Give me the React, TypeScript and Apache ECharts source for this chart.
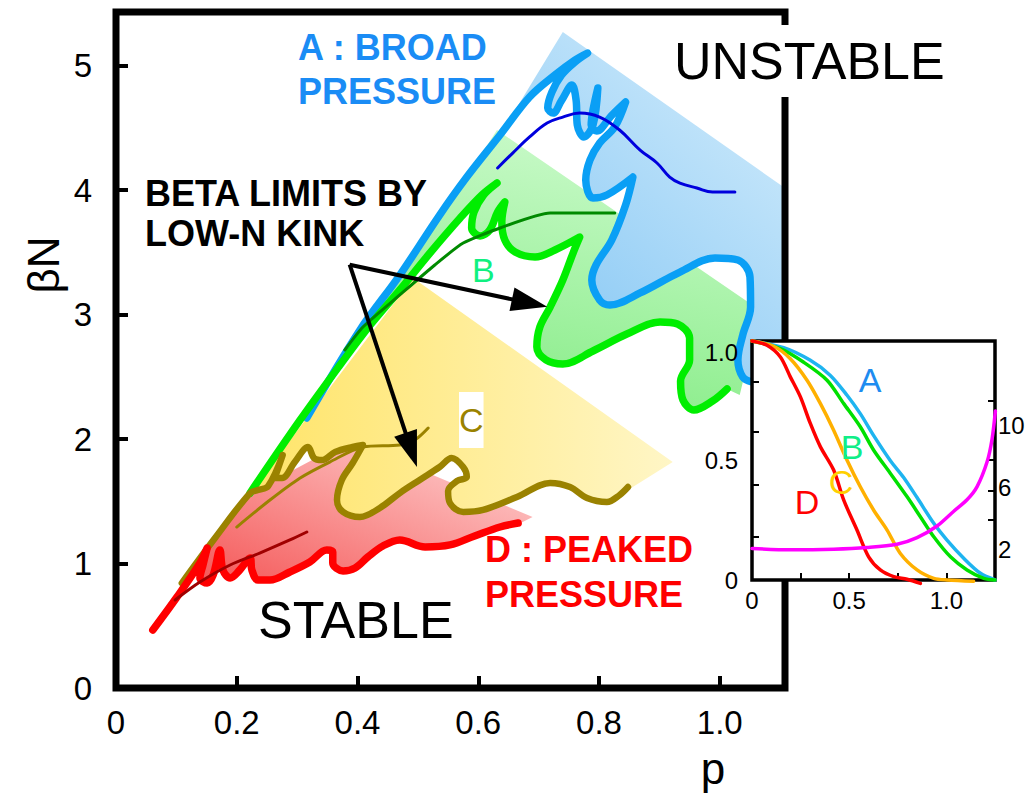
import React, { useEffect, useRef } from "react";
import * as echarts from "echarts";

// ---------- axis ticks / labels ----------
const mainXTicks = [0.2, 0.4, 0.6, 0.8, 1.0];
const mainXLabels = [0, 0.2, 0.4, 0.6, 0.8, 1.0];
const mainYTicks = [1, 2, 3, 4, 5];
const mainYLabels = [0, 1, 2, 3, 4, 5];
const insetXTicks = [0.25, 0.5, 0.75, 1.0];
const insetXLabels = [0, 0.5, 1.0];
const insetYTicks = [0.18, 0.4, 0.62, 0.83];
const insetYLabels = [0, 0.5, 1.0];
const insetY2Ticks = [3.9, 5.8, 7.8, 11.6];
const insetY2Labels = [2, 6, 10];

// ---------- main chart curves (p, betaN) ----------
const curveA = [
  [0.316, 2.169], [0.404, 2.876], [0.47, 3.317], [0.536, 3.799], [0.581, 4.104], [0.636, 4.442],
  [0.685, 4.747], [0.727, 4.924], [0.76, 5.044], [0.781, 5.1], [0.76, 5.028], [0.738, 4.924],
  [0.722, 4.787], [0.715, 4.659], [0.724, 4.618], [0.738, 4.72], [0.755, 4.843], [0.762, 4.723],
  [0.764, 4.522], [0.775, 4.426], [0.79, 4.522], [0.798, 4.819], [0.79, 4.643], [0.787, 4.522],
  [0.796, 4.474], [0.821, 4.6], [0.844, 4.707], [0.826, 4.506], [0.801, 4.378], [0.785, 4.241],
  [0.778, 4.08], [0.79, 3.936], [0.813, 3.96], [0.856, 4.104], [0.844, 3.88], [0.821, 3.598],
  [0.795, 3.398], [0.788, 3.277], [0.801, 3.116], [0.818, 3.076], [0.868, 3.173], [0.934, 3.341],
  [0.992, 3.454], [1.03, 3.438], [1.05, 3.301], [1.051, 3.06], [1.038, 2.835], [1.03, 2.635],
  [1.038, 2.498], [1.053, 2.458],
];
const curveB = [
  [0.222, 1.566], [0.305, 2.153], [0.371, 2.594], [0.421, 2.916], [0.47, 3.197], [0.52, 3.494],
  [0.57, 3.775], [0.606, 3.96], [0.631, 4.056], [0.609, 3.96], [0.593, 3.823], [0.589, 3.695],
  [0.603, 3.631], [0.619, 3.679], [0.632, 3.823], [0.644, 3.904], [0.639, 3.743], [0.644, 3.598],
  [0.661, 3.502], [0.694, 3.462], [0.727, 3.518], [0.768, 3.622], [0.757, 3.494], [0.74, 3.277],
  [0.719, 3.06], [0.702, 2.9], [0.697, 2.739], [0.712, 2.635], [0.74, 2.602], [0.79, 2.707],
  [0.846, 2.843], [0.901, 2.94], [0.93, 2.924], [0.95, 2.811], [0.95, 2.635], [0.935, 2.466],
  [0.939, 2.313], [0.957, 2.233], [0.988, 2.305], [1.012, 2.402],
];
const curveC = [
  [0.109, 0.843], [0.164, 1.205], [0.222, 1.566], [0.235, 1.59], [0.252, 1.622], [0.276, 1.871],
  [0.263, 1.687], [0.275, 1.687], [0.296, 1.815], [0.318, 1.936], [0.328, 1.847], [0.341, 1.831],
  [0.363, 1.896], [0.392, 1.936], [0.409, 1.952], [0.392, 1.807], [0.374, 1.671], [0.366, 1.51],
  [0.376, 1.414], [0.404, 1.373], [0.437, 1.446], [0.47, 1.566], [0.503, 1.671], [0.536, 1.775],
  [0.556, 1.847], [0.575, 1.775], [0.581, 1.695], [0.565, 1.663], [0.55, 1.582], [0.553, 1.486],
  [0.575, 1.414], [0.608, 1.43], [0.664, 1.534], [0.719, 1.647], [0.752, 1.614], [0.78, 1.526],
  [0.813, 1.494], [0.834, 1.55], [0.848, 1.614],
];
const curveD = [
  [0.061, 0.466], [0.101, 0.731], [0.139, 1.004], [0.151, 1.124], [0.144, 0.988], [0.139, 0.884],
  [0.151, 0.843], [0.161, 0.908], [0.172, 1.108], [0.177, 0.948], [0.189, 0.884], [0.205, 0.948],
  [0.222, 1.044], [0.225, 0.948], [0.235, 0.867], [0.255, 0.867], [0.288, 0.932], [0.321, 1.012],
  [0.349, 1.108], [0.359, 1.092], [0.359, 1.004], [0.376, 0.94], [0.396, 0.964], [0.417, 1.052],
  [0.442, 1.141], [0.47, 1.189], [0.512, 1.133], [0.553, 1.149], [0.594, 1.221], [0.636, 1.293],
  [0.666, 1.325],
];
// thin "low-n kink" limit lines
const kinkA = [
  [0.632, 4.177], [0.657, 4.297], [0.685, 4.426], [0.714, 4.538], [0.74, 4.586], [0.768, 4.618],
  [0.801, 4.586], [0.834, 4.482], [0.868, 4.321], [0.896, 4.217], [0.917, 4.104], [0.934, 4.056],
  [0.962, 4.016], [0.988, 3.984], [1.025, 3.984],
];
const kinkB = [
  [0.379, 2.715], [0.409, 2.9], [0.47, 3.157], [0.528, 3.398], [0.575, 3.574], [0.636, 3.695],
  [0.719, 3.815], [0.826, 3.815],
];
const kinkC = [
  [0.2, 1.293], [0.255, 1.51], [0.305, 1.687], [0.354, 1.815], [0.409, 1.936], [0.47, 1.952],
  [0.495, 1.992], [0.517, 2.088],
];
const kinkD = [
  [0.098, 0.707], [0.139, 0.851], [0.189, 0.988], [0.238, 1.084], [0.288, 1.189], [0.316, 1.253],
];
// outer corners of the shaded regions
const blueEdge = [[0.74, 5.269], [1.108, 4.016], [1.108, 2.313]];
const greenEdge = [
  [0.404, 2.876], [0.47, 3.317], [0.536, 3.799], [0.581, 4.104], [0.631, 4.482],
  [1.066, 3.036], [1.053, 2.755], [1.033, 2.353],
];
const yellowEdge = [[0.492, 3.293], [0.922, 1.815], [0.848, 1.59]];
const pinkEdge = [[0.123, 0.908], [0.222, 1.566], [0.387, 1.992], [0.69, 1.373], [0.657, 1.293]];
// arrows
const arrowFrom = [0.387, 3.4];
const arrowTo = [[0.685, 3.092], [0.489, 1.912]];

// ---------- inset: pressure profiles vs rho ----------
const profA = [
  [0, 1], [0.163, 0.972], [0.3, 0.919], [0.403, 0.856], [0.489, 0.773], [0.557, 0.696], [0.626, 0.604],
  [0.712, 0.499], [0.78, 0.429], [0.849, 0.345], [0.935, 0.237], [1.003, 0.167], [1.089, 0.091],
  [1.175, 0.028], [1.25, 0],
];
const profB = [
  [0, 1], [0.146, 0.968], [0.266, 0.911], [0.386, 0.836], [0.472, 0.738], [0.557, 0.641], [0.626, 0.543],
  [0.712, 0.446], [0.798, 0.348], [0.866, 0.265], [0.935, 0.181], [1.021, 0.097], [1.106, 0.042],
  [1.192, 0.007], [1.25, 0],
];
const profC = [
  [0, 1], [0.111, 0.978], [0.197, 0.926], [0.283, 0.836], [0.352, 0.738], [0.42, 0.627], [0.489, 0.501],
  [0.557, 0.39], [0.626, 0.292], [0.695, 0.209], [0.763, 0.111], [0.849, 0.042], [0.935, 0.007],
  [1.003, 0], [1.14, -0.005],
];
const profD = [
  [0, 1], [0.077, 0.982], [0.146, 0.933], [0.197, 0.85], [0.249, 0.766], [0.3, 0.655], [0.352, 0.557],
  [0.42, 0.46], [0.472, 0.334], [0.54, 0.209], [0.6, 0.097], [0.66, 0.042], [0.729, 0.014],
  [0.798, 0.003], [0.866, -0.014],
];
const safetyQ = [
  [0, 2.05], [0.197, 1.96], [0.42, 2.0], [0.592, 2.11], [0.746, 2.32], [0.849, 2.75], [0.952, 3.5],
  [1.038, 4.46], [1.106, 5.2], [1.158, 6.06], [1.209, 7.65], [1.235, 9.15], [1.252, 10.96],
];

const FONT = '"Liberation Sans", Arial, Helvetica, sans-serif';

function rev(a: number[][]) {
  return a.slice().reverse();
}

function polygon(pts: number[][], fill: any, z: number) {
  return {
    type: "custom",
    xAxisIndex: 0,
    yAxisIndex: 0,
    z,
    silent: true,
    clip: true,
    data: [pts[0]],
    renderItem: (params: any, api: any) => ({
      type: "polygon",
      shape: { points: pts.map((p) => api.coord(p)) },
      style: { fill },
    }),
  };
}

function line(data: number[][], color: string, width: number, z: number, smooth = 0.3, extra: any = {}) {
  return {
    type: "line",
    xAxisIndex: 0,
    yAxisIndex: 0,
    data,
    symbol: "none",
    smooth,
    z,
    silent: true,
    lineStyle: { color, width, cap: "round", join: "round" },
    ...extra,
  };
}

function insetLine(data: number[][], color: string, yIdx: number) {
  return {
    type: "line",
    xAxisIndex: 1,
    yAxisIndex: yIdx,
    data,
    symbol: "none",
    smooth: 0.3,
    z: 12,
    clip: false,
    silent: true,
    lineStyle: { color, width: 3.5, cap: "round", join: "round" },
  };
}

function text(t: string, x: number, y: number, font: string, fill: string, extra: any = {}, align = "left") {
  return {
    type: "text",
    x,
    y,
    z: 30,
    silent: true,
    style: { text: t, font, fill, align, verticalAlign: "middle", ...extra },
  };
}

export default function App() {
  const ref = useRef<HTMLDivElement>(null);
  useEffect(() => {
    if (!ref.current) return;
    const chart = echarts.init(ref.current, null, { renderer: "svg" });
    const G = echarts.graphic.LinearGradient;
    const tickStyle = (w: number) => ({ color: "#000", width: w });

    const option: any = {
      animation: false,
      backgroundColor: "#fff",
      grid: [
        { left: 116, top: 12, width: 669, height: 676, show: true, borderColor: "#000", borderWidth: 7, backgroundColor: "transparent", z: 4 },
        { left: 752, top: 341, width: 243, height: 239, show: true, borderColor: "#000", borderWidth: 3.5, backgroundColor: "#fff", z: 10 },
      ],
      xAxis: [
        {
          type: "value", gridIndex: 0, min: 0, max: 1.108, z: 5,
          axisLine: { show: false }, splitLine: { show: false },
          axisTick: { inside: true, length: 12, lineStyle: tickStyle(4), customValues: mainXTicks },
          axisLabel: { customValues: mainXLabels, margin: 18, fontSize: 33, fontFamily: FONT, color: "#000",
            formatter: (v: number) => (v === 0 ? "0" : v.toFixed(1)) },
        },
        {
          type: "value", gridIndex: 1, min: 0, max: 1.25, z: 12,
          axisLine: { show: false }, splitLine: { show: false },
          axisTick: { inside: true, length: 7, lineStyle: tickStyle(2), customValues: insetXTicks },
          axisLabel: { customValues: insetXLabels, margin: 8, fontSize: 24, fontFamily: FONT, color: "#000",
            formatter: (v: number) => (v === 0 ? "0" : v.toFixed(1)) },
        },
      ],
      yAxis: [
        {
          type: "value", gridIndex: 0, min: 0, max: 5.43, z: 5,
          axisLine: { show: false }, splitLine: { show: false },
          axisTick: { inside: true, length: 12, lineStyle: tickStyle(4), customValues: mainYTicks },
          axisLabel: { customValues: mainYLabels, margin: 24, fontSize: 33, fontFamily: FONT, color: "#000",
            formatter: (v: number) => String(v) },
        },
        { type: "value", gridIndex: 0, min: 0, max: 5.43, show: false },
        {
          type: "value", gridIndex: 1, min: 0, max: 1, z: 12, position: "left",
          axisLine: { show: false }, splitLine: { show: false },
          axisTick: { inside: true, length: 7, lineStyle: tickStyle(2), customValues: insetYTicks },
          axisLabel: { customValues: insetYLabels, margin: 14, fontSize: 24, fontFamily: FONT, color: "#000",
            formatter: (v: number) => (v === 1 ? "{d|1.0}" : v === 0 ? "0" : v.toFixed(1)),
            rich: { d: { fontSize: 24, fontFamily: FONT, color: "#000", padding: [22, 0, 0, 0] } } },
        },
        {
          type: "value", gridIndex: 1, min: 0, max: 15.5, z: 12, position: "right",
          axisLine: { show: false }, splitLine: { show: false },
          axisTick: { inside: true, length: 7, lineStyle: tickStyle(2), customValues: insetY2Ticks },
          axisLabel: { customValues: insetY2Labels, margin: 3, fontSize: 24, fontFamily: FONT, color: "#000",
            formatter: (v: number) => String(v) },
        },
      ],
      series: [
        polygon(pinkEdge.concat(rev(curveD).slice(0, curveD.length - 3)), new G(0, 1, 1, 0, [
          { offset: 0, color: "#F45656" }, { offset: 1, color: "#FFD8D8" }]), 1),
        polygon(yellowEdge.concat(rev(curveC).slice(0, curveC.length - 2)), new G(0, 0.5, 1, 0.5, [
          { offset: 0, color: "#FFE468" }, { offset: 1, color: "#FFF6C6" }]), 1),
        polygon(greenEdge.concat(rev(curveB).slice(0, curveB.length - 3)), new G(0.6, 0, 0.3, 1, [
          { offset: 0, color: "#CBFACB" }, { offset: 1, color: "#86EC86" }]), 1),
        polygon(blueEdge.concat(rev(curveA).slice(0, curveA.length - 5)), new G(1, 0, 0.3, 1, [
          { offset: 0, color: "#D6EEFC" }, { offset: 1, color: "#86C7F4" }]), 1),
        line(curveA, "#0A9FF5", 7.5, 3, 0.35),
        line(curveB, "#00EE00", 7.5, 3, 0.35),
        line(curveC, "#9A8200", 6.5, 3, 0.35),
        line(curveD, "#FF0000", 7.5, 3, 0.35),
        line(kinkA, "#0000DD", 3, 3, 0.4),
        line(kinkB, "#008A00", 3, 3, 0.2),
        line(kinkC, "#9A8200", 3, 3, 0.3),
        line(kinkD, "#A00000", 3, 3, 0.3),
        {
          type: "line", xAxisIndex: 0, yAxisIndex: 1, data: [arrowFrom], symbol: "none", z: 5, silent: true,
          lineStyle: { opacity: 0 },
          markLine: {
            silent: true, symbol: ["none", "triangle"], symbolSize: [24, 36], animation: false,
            label: { show: false },
            lineStyle: { color: "#000", width: 4, type: "solid" },
            data: arrowTo.map((t) => [{ coord: arrowFrom }, { coord: t }]),
          },
        },
        insetLine(profA, "#1EB4F0", 2),
        insetLine(profB, "#00E000", 2),
        insetLine(profC, "#FFB000", 2),
        insetLine(profD, "#FF0000", 2),
        insetLine(safetyQ, "#FF00FF", 3),
      ],
      graphic: [
        text("A : BROAD", 298, 47, `bold 36px ${FONT}`, "#1A8CF5"),
        text("PRESSURE", 298, 91, `bold 36px ${FONT}`, "#1A8CF5"),
        text("BETA LIMITS BY", 145, 193, `bold 36px ${FONT}`, "#000"),
        text("LOW-N KINK", 145, 233, `bold 36px ${FONT}`, "#000"),
        text("D : PEAKED", 485, 549, `bold 36px ${FONT}`, "#FF0000"),
        text("PRESSURE", 485, 594, `bold 36px ${FONT}`, "#FF0000"),
        text("UNSTABLE", 668, 61, `52px ${FONT}`, "#000", { backgroundColor: "#fff", padding: [10, 6, 10, 6] }),
        text("STABLE", 258, 620, `52px ${FONT}`, "#000"),
        text("B", 472, 270, `34px ${FONT}`, "#10F080"),
        text("C", 459, 420, `34px ${FONT}`, "#9A8200", { backgroundColor: "#fff", padding: [10, 0, 12, 0] }),
        text("A", 870, 380, `34px ${FONT}`, "#1E8CF0", {}, "center"),
        text("B", 852, 447, `34px ${FONT}`, "#10EE88", {}, "center"),
        text("C", 841, 482, `34px ${FONT}`, "#FFD000", {}, "center"),
        text("D", 807, 502, `34px ${FONT}`, "#FF0000", {}, "center"),
        text("p", 713, 768, `44px ${FONT}`, "#000", {}, "center"),
        { type: "text", x: 43, y: 265, rotation: Math.PI / 2, z: 30, silent: true,
          style: { text: "βN", font: `44px ${FONT}`, fill: "#000", align: "center", verticalAlign: "middle" } },
      ],
    };
    chart.setOption(option);
    return () => chart.dispose();
  }, []);
  return <div ref={ref} style={{ position: "fixed", left: 0, top: 0, width: 1034, height: 796 }} />;
}
